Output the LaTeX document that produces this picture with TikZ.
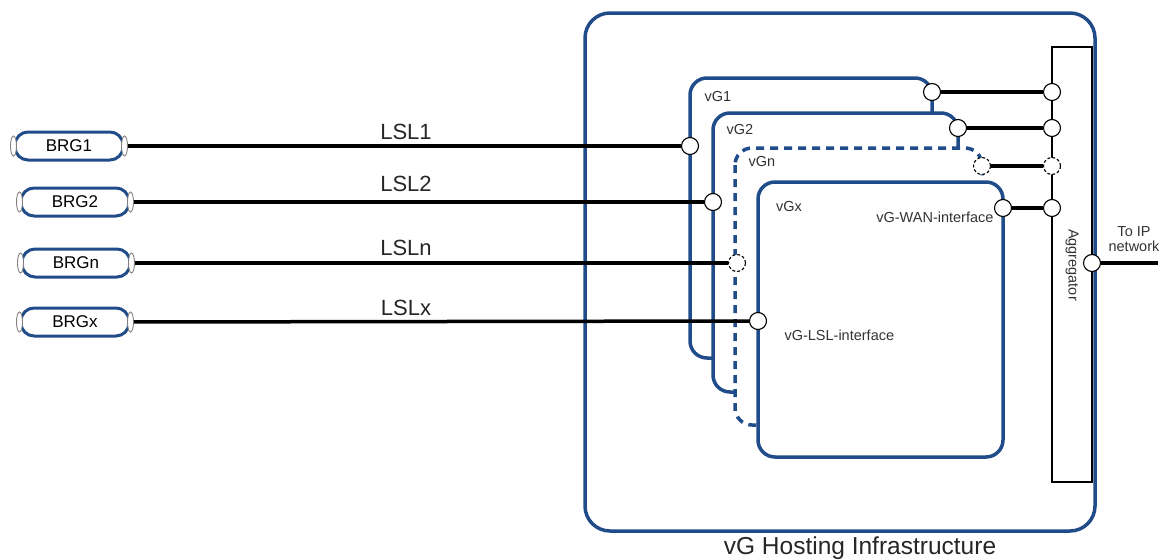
\documentclass[tikz,border=0pt]{standalone}
\usepackage{fontspec}
\setmainfont{Liberation Sans}
\usepackage{xcolor}
\usetikzlibrary{positioning,shapes.geometric}
\definecolor{vgblue}{RGB}{33,76,138}

\begin{document}
\begin{tikzpicture}[x=1pt, y=-1pt,
                    hostbox/.style = {draw=vgblue, line width=3.5pt, rounded corners=25pt},
                    vgbox/.style = {draw=vgblue, fill=white, line width=3.5pt, rounded corners=17pt},
                    port/.style = {circle, draw, fill=white, line width=1.1pt, minimum size=17pt, inner sep=0pt},
                    dport/.style = {port, densely dashed},
                    link/.style = {line width=3.5pt},
                    brg/.style = {draw=vgblue, line width=3pt, rounded corners=13pt, minimum width=108pt,
                                  minimum height=28pt, inner sep=0pt, font=\fontsize{17}{19}\selectfont},
                    plug/.style = {ellipse, draw=gray, fill=white, line width=0.9pt, minimum width=6pt,
                                   minimum height=20pt, inner sep=0pt},
                    small/.style = {font=\fontsize{14.5}{16}\selectfont, text=black!80},
                    big/.style = {font=\fontsize{22}{24}\selectfont, text=black!85}]
    \useasboundingbox (0,0) rectangle (1163,560);
    \draw[hostbox] (585,13) rectangle (1095,531);
    \node[big, font=\fontsize{24.5}{26}\selectfont, anchor=north] at (860,533) {vG Hosting Infrastructure};
    \draw[line width=2pt] (1052,47) rectangle (1092,482);
    \node[small, rotate=-90] at (1072,265) {Aggregator};
    \node[small, align=center] at (1134,239) {To IP\\[-1pt]network};
    \draw[vgbox] (690,78) rectangle (932,358);
    \draw[vgbox] (713,113) rectangle (958,392);
    \draw[vgbox, dash pattern=on 8pt off 6pt] (735,148) rectangle (982,425);
    \draw[vgbox] (758,182) rectangle (1003,457);
    \node[small] at (718,97) {vG1};
    \node[small] at (740,130) {vG2};
    \node[small] at (762,162) {vGn};
    \node[small] at (789,207) {vGx};
    \node[small, anchor=east] at (997,217) {vG-WAN-interface};
    \node[small, anchor=west] at (781,335) {vG-LSL-interface};

    \foreach \name/\xc/\yc in {1/69/146, 2/75/202, n/76/263, x/75/322} {
        \node[brg] (brg\name) at (\xc,\yc) {BRG\name};
        \node[plug] (plugl\name) at (brg\name.west) {};
        \node[plug] (plug\name) at (brg\name.east) {};
    }

    \node[port] (lsl1) at (690,146) {};
    \node[port] (lsl2) at (713,202) {};
    \node[dport] (lsln) at (737,263) {};
    \node[port] (lslx) at (758,321) {};
    \node[port] (wan1) at (932,92) {};
    \node[port] (wan2) at (958,128) {};
    \node[dport] (wann) at (982,166) {};
    \node[port] (wanx) at (1003,208) {};
    \node[port] (agg1) at (1052,92) {};
    \node[port] (agg2) at (1052,128) {};
    \node[dport] (aggn) at (1052,166) {};
    \node[port] (aggx) at (1052,208) {};
    \node[port] (aggout) at (1092,263) {};
    \coordinate (ipnet) at (1158,263);

    \foreach \name/\yl in {1/132, 2/184, n/248, x/308} {
        \draw[link] (plug\name) -- (lsl\name);
        \node[big] at (406,\yl) {LSL\name};
        \draw[link] (wan\name) -- (agg\name);
    }
    \draw[link] (aggout) -- (ipnet);
\end{tikzpicture}
\end{document}
